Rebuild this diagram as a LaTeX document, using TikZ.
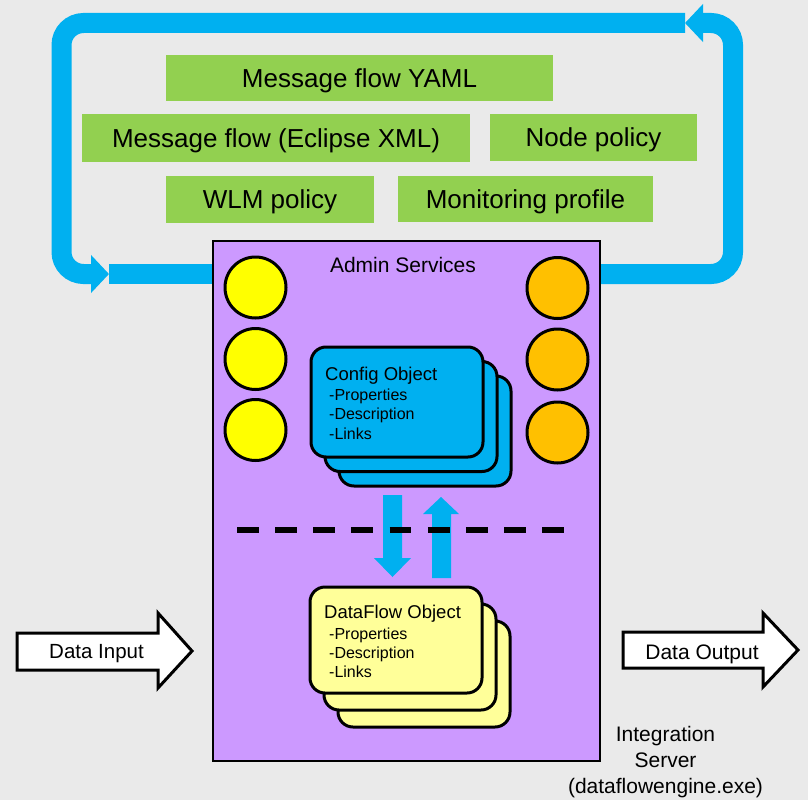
\documentclass[tikz,border=0pt]{standalone}
\usepackage{fontspec}
\setmainfont{Liberation Sans}
\usetikzlibrary{arrows.meta}
\definecolor{bgc}{HTML}{EAEAEA}
\definecolor{loopblue}{HTML}{00B0F0}
\definecolor{cfggreen}{HTML}{92D050}
\definecolor{srvpurple}{HTML}{CC99FF}
\definecolor{dotyellow}{HTML}{FFFF00}
\definecolor{dotorange}{HTML}{FFC000}
\definecolor{cardyellow}{HTML}{FFFF99}
\begin{document}
\begin{tikzpicture}[x=1pt,y=-1pt,
  loopline/.style={draw=loopblue,line width=20pt,rounded corners=22pt},
  looptip/.style={-{Triangle[length=18pt,width=37pt]}},
  greenbox/.style={fill=cfggreen,inner sep=0pt,text height=18.6pt,text depth=0pt,font=\fontsize{26}{30}\selectfont},
  srvbox/.style={draw=black,fill=srvpurple,line width=2.5pt,inner sep=0pt,minimum width=387pt,minimum height=520pt},
  dot/.style={circle,draw=black,line width=3pt,minimum size=61pt,inner sep=0pt},
  card/.style={draw=black,line width=3pt,rounded corners=15pt,minimum width=172pt,inner sep=0pt},
  cardtitle/.style={anchor=base west,inner sep=0pt,font=\fontsize{18.5}{22}\selectfont},
  carditem/.style={anchor=base west,inner sep=0pt,font=\fontsize{16}{19}\selectfont},
  blockarrow/.style={fill=loopblue},
  ioarrow/.style={draw=black,fill=white,line width=3pt,miter limit=10},
  lbl/.style={inner sep=0pt,font=\fontsize{21}{26}\selectfont},
  ]
\fill[bgc] (0,0) rectangle (808,800);
\useasboundingbox (0,0) rectangle (808,800);

% purple server box (named first so the loops can refer to it)
\node[srvbox] (srv) at (406.5,501) {};

% feedback loop
\coordinate (rightout) at (600,274);
\coordinate (topend) at (685,23);
\coordinate (leftin) at (109,274);
\draw[loopline,looptip] (rightout) -- (733,274) -- (733,23) -- (topend);
\draw[loopline,looptip] (topend) -- (61.5,23) -- (61.5,274) -- (leftin);
\draw[loopline,rounded corners=0pt] (leftin) -- (srv.west |- leftin);
\node[srvbox] at (srv.center) {};

% green configuration boxes
\node[greenbox,minimum width=387pt,minimum height=46pt] (yaml) at (359.5,78) {Message flow YAML};
\node[greenbox,minimum width=388pt,minimum height=48pt] (xml) at (276,138) {Message flow (Eclipse XML)};
\node[greenbox,minimum width=207pt,minimum height=47pt] (nodepol) at (593.5,137.5) {Node policy};
\node[greenbox,minimum width=208pt,minimum height=47pt] (wlm) at (270,199.5) {WLM policy};
\node[greenbox,minimum width=255pt,minimum height=46pt] (mon) at (525.5,199) {Monitoring profile};

% admin services title
\node[lbl,anchor=base] (admin) at (403,272.5) {Admin Services};

% circles
\node[dot,fill=dotyellow] (y1) at (255.5,287.5) {};
\node[dot,fill=dotyellow] (y2) at (255.5,359) {};
\node[dot,fill=dotyellow] (y3) at (255.5,430) {};
\node[dot,fill=dotorange] (o1) at (557.5,288) {};
\node[dot,fill=dotorange] (o2) at (557.5,359.5) {};
\node[dot,fill=dotorange] (o3) at (557.5,432.5) {};

% config object stack
\node[card,fill=loopblue,minimum height=110pt] (cfg3) at (425,431) {};
\node[card,fill=loopblue,minimum height=110pt] (cfg2) at (411,416.5) {};
\node[card,fill=loopblue,minimum height=110pt] (cfg1) at (397,402) {};
\node[cardtitle] (cfgt) at (325,380) {Config Object};
\node[carditem] (cfgp) at (329,400) {-Properties};
\node[carditem] (cfgd) at (329,419.5) {-Description};
\node[carditem] (cfgl) at (329,439) {-Links};

% dataflow object stack
\node[card,fill=cardyellow,minimum height=106pt] (df3) at (424,674) {};
\node[card,fill=cardyellow,minimum height=106pt] (df2) at (410,657) {};
\node[card,fill=cardyellow,minimum height=106pt] (df1) at (396,640) {};
\node[cardtitle] (dft) at (324,618.5) {DataFlow Object};
\node[carditem] (dfp) at (329,639) {-Properties};
\node[carditem] (dfd) at (329,658) {-Description};
\node[carditem] (dfl) at (329,677) {-Links};

% block arrows between the stacks
\fill[blockarrow] (383,495) -- (402,495) -- (402,558) -- (411,558) -- (392.5,577) -- (374,558) -- (383,558) -- cycle;
\fill[blockarrow] (432,578) -- (451,578) -- (451,514) -- (459,514) -- (441,497) -- (423,514) -- (432,514) -- cycle;

% dashed boundary
\coordinate (dashA) at (237,530);
\coordinate (dashB) at (564,530);
\draw[line width=5.5pt,dash pattern=on 21.8pt off 16.36pt] (dashA) -- (dashB);

% data input / output arrows
\draw[ioarrow] (17,633) -- (158,633) -- (158,613) -- (192,651) -- (158,688) -- (158,670) -- (17,670) -- cycle;
\node[lbl,anchor=base,font=\fontsize{20.5}{24}\selectfont] (din) at (96.5,658) {Data Input};
\draw[ioarrow] (623,632) -- (763,632) -- (763,613) -- (798,650) -- (763,687) -- (763,668) -- (623,668) -- cycle;
\node[lbl,anchor=base] (dout) at (702,659) {Data Output};

% server caption
\node[lbl,anchor=base] (cap1) at (665.5,741.5) {Integration};
\node[lbl,anchor=base] (cap2) at (665.5,767.5) {Server};
\node[lbl,anchor=base] (cap3) at (665.5,793) {(dataflowengine.exe)};
\end{tikzpicture}
\end{document}
